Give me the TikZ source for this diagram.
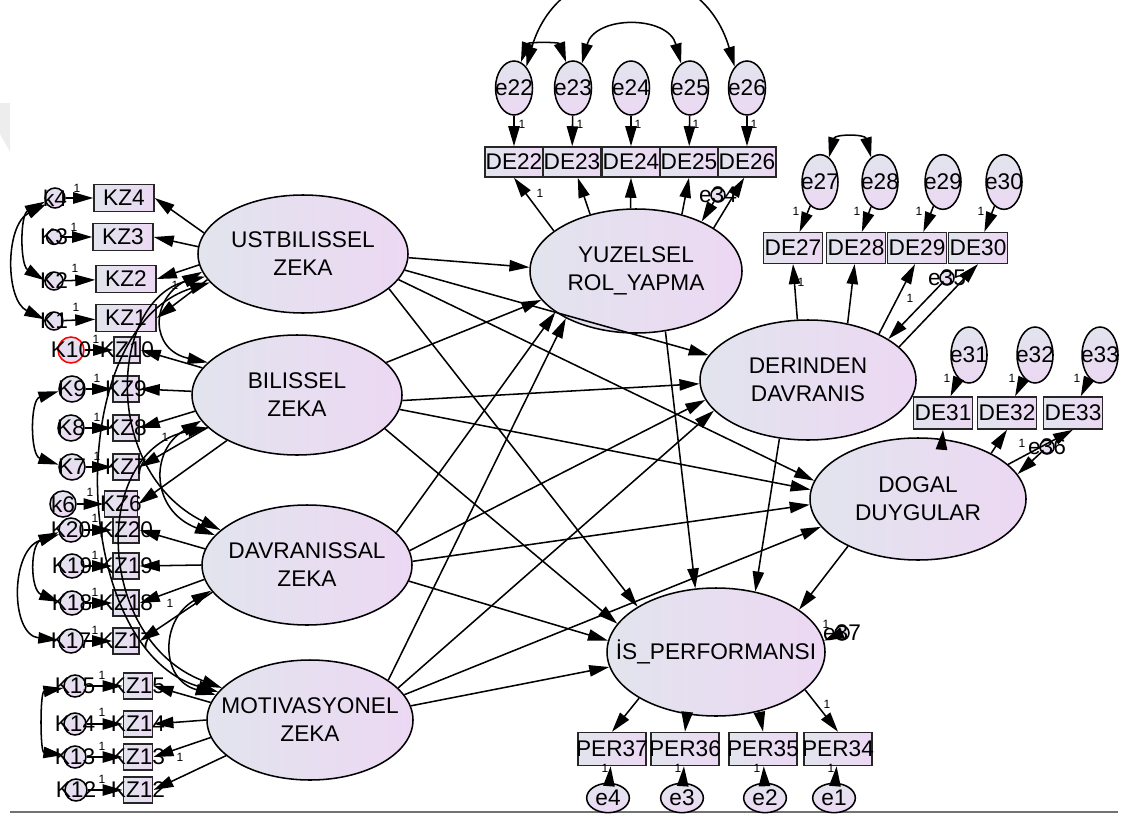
\documentclass[tikz,border=0pt]{standalone}
\usepackage{fontspec}
\setmainfont{Liberation Sans}
\usetikzlibrary{shapes.geometric,arrows.meta}
\definecolor{fillA}{RGB}{226,228,238}
\definecolor{fillB}{RGB}{236,216,243}
\begin{document}
\begin{tikzpicture}[x=0.75pt,y=-0.75pt,
  every label/.style={inner sep=0pt, font=\fontsize{17}{21}\selectfont, align=center, text=black},
  lat/.style={ellipse, draw=black, line width=1.15pt, left color=fillA, right color=fillB, inner sep=0pt},
  obs/.style={rectangle, draw=black!85, line width=1.15pt, left color=fillA, right color=fillB, inner sep=0pt},
  err/.style={ellipse, draw=black, line width=1.15pt, top color=fillA, bottom color=fillB, inner sep=0pt},
  arr/.style={-{Triangle[length=15pt,width=8.5pt]}, line width=1.15pt},
  cov/.style={{Triangle[length=15pt,width=8.5pt]}-{Triangle[length=15pt,width=8.5pt]}, line width=1.15pt},
  one/.style={font=\fontsize{9}{9}\selectfont, inner sep=0pt},
]
\useasboundingbox (0,0) rectangle (1123,817);
\fill[black!7] (0,103) -- (10,103) -- (10,152) -- (0,134) -- cycle;
\draw[black!55, line width=1.2pt] (10,812) -- (1118,812);

% latent variables
\node[lat, minimum width=157.5pt, minimum height=88.5pt, label=center:{USTBILISSEL\\ZEKA}] (UST) at (303,254) {};
\node[lat, minimum width=157.5pt, minimum height=90pt, label=center:{BILISSEL\\ZEKA}] (BIL) at (297,395) {};
\node[lat, minimum width=157.5pt, minimum height=90pt, label=center:{DAVRANISSAL\\ZEKA}] (DAV) at (307,565) {};
\node[lat, minimum width=154.5pt, minimum height=90pt, label=center:{MOTIVASYONEL\\ZEKA}] (MOT) at (310,720) {};
\node[lat, minimum width=159pt, minimum height=93pt, label=center:{YUZELSEL\\ROL\_YAPMA}] (YUZ) at (636,271) {};
\node[lat, minimum width=162pt, minimum height=90pt, label=center:{DERINDEN\\DAVRANIS}] (DER) at (808,380) {};
\node[lat, minimum width=162pt, minimum height=91.5pt, label=center:{DOGAL\\DUYGULAR}] (DOG) at (918,499) {};
\node[lat, minimum width=163.5pt, minimum height=96pt, label=center:{İS\_PERFORMANSI}] (IS) at (716,652) {};

% indicators on the left
\foreach \n/\x/\y in {KZ4/124/198, KZ3/123/237, KZ2/126/279, KZ1/126/318}
  \node[obs, minimum width=45pt, minimum height=20.5pt, label=center:\n] (\n) at (\x,\y) {};
\foreach \n/\x/\y in {KZ10/127/350, KZ9/126/389, KZ8/126/428, KZ7/126/467, KZ20/126/530, KZ19/126/566, KZ18/126/603, KZ17/126/641}
  \node[obs, minimum width=19.5pt, minimum height=19.5pt, label=center:\n] (\n) at (\x,\y) {};
\node[obs, minimum width=25pt, minimum height=19.5pt, label=center:KZ6] (KZ6) at (121,504) {};
\foreach \n/\y in {KZ15/686, KZ14/724, KZ13/757, KZ12/790}
  \node[obs, minimum width=22pt, minimum height=19.5pt, label=center:\n] (\n) at (138,\y) {};

% their error terms
\foreach \n/\x/\y/\d in {k4/55/198/15, K3/54/237/11, K2/54/281/13.5, K1/54/321/13.5,
    K9/72/389/19.5, K8/71/428/19.5, K7/72/467/19.5, k6/63/504/19.5,
    K20/71/530/18, K19/72/566/18, K18/72/603/18, K17/71/641/18,
    K15/75/686/16.5, K14/75/724/16.5, K13/75/757/16.5, K12/76/790/16.5}
  \node[err, minimum width=\d pt, minimum height=\d pt, label=center:\n] (\n) at (\x,\y) {};
\node[err, draw=red, minimum width=19.5pt, minimum height=19.5pt, label=center:K10] (K10) at (71,350) {};

% top indicators
\foreach \n/\x in {e22/514, e23/573, e24/631, e25/690, e26/747}
  \node[err, minimum width=27.75pt, minimum height=40.5pt, label=center:\n] (\n) at (\x,88) {};
\foreach \n/\x in {DE22/514, DE23/572, DE24/631, DE25/689, DE26/747}
  \node[obs, minimum width=43.5pt, minimum height=22.5pt, label=center:\n] (\n) at (\x,162) {};
\foreach \n/\x in {e27/820, e28/880, e29/943, e30/1004}
  \node[err, minimum width=27pt, minimum height=41pt, label=center:\n] (\n) at (\x,182) {};
\foreach \n/\x in {DE27/793, DE28/856, DE29/917, DE30/978}
  \node[obs, minimum width=44pt, minimum height=23pt, label=center:\n] (\n) at (\x,248) {};
\foreach \n/\x in {e31/969, e32/1035, e33/1100}
  \node[err, minimum width=27pt, minimum height=42pt, label=center:\n] (\n) at (\x,355) {};
\foreach \n/\x in {DE31/943, DE32/1007, DE33/1073}
  \node[obs, minimum width=44pt, minimum height=24pt, label=center:\n] (\n) at (\x,413) {};
\foreach \n/\x in {PER37/612, PER36/685, PER35/763, PER34/838}
  \node[obs, minimum width=51pt, minimum height=24.75pt, label=center:\n] (\n) at (\x,749) {};
\foreach \n/\x in {e4/608, e3/682, e2/765, e1/834}
  \node[err, minimum width=32pt, minimum height=22pt, label=center:\n] (\n) at (\x,798) {};

% disturbances
\foreach \n/\x/\y in {e34/718/195, e35/947/278, e36/1047/447, e37/842/633}
  \node[err, minimum width=10.5pt, minimum height=10.5pt, label=center:\n] (\n) at (\x,\y) {};

% error -> indicator paths
\foreach \a/\b in {k4/KZ4, K3/KZ3, K2/KZ2, K1/KZ1, K10/KZ10, K9/KZ9, K8/KZ8, K7/KZ7, k6/KZ6,
    K20/KZ20, K19/KZ19, K18/KZ18, K17/KZ17, K15/KZ15, K14/KZ14, K13/KZ13, K12/KZ12,
    e22/DE22, e23/DE23, e24/DE24, e25/DE25, e26/DE26, e27/DE27, e28/DE28, e29/DE29, e30/DE30,
    e31/DE31, e32/DE32, e33/DE33, e4/PER37, e3/PER36, e2/PER35, e1/PER34}
  \draw[arr] (\a) -- (\b);

% loadings
\draw[arr] (UST.168) -- (KZ4.east);
\draw[arr] (UST.176) -- (KZ3.east);
\draw[arr] (UST.186) -- (KZ2.east);
\draw[arr] (UST.195) -- (KZ1.east);
\draw[arr] (BIL.164) -- (KZ10.east);
\draw[arr] (BIL.178) -- (KZ9.east);
\draw[arr] (BIL.189) -- (KZ8.east);
\draw[arr] (BIL.200) -- (KZ7.east);
\draw[arr] (BIL.213) -- (KZ6.east);
\draw[arr] (DAV.171) -- (KZ20.east);
\draw[arr] (DAV.180) -- (KZ19.east);
\draw[arr] (DAV.188) -- (KZ18.east);
\draw[arr] (DAV.196) -- (KZ17.east);
\draw[arr] (MOT.170) -- (KZ15.east);
\draw[arr] (MOT.180) -- (KZ14.east);
\draw[arr] (MOT.190) -- (KZ13.east);
\draw[arr] (MOT.203) -- (KZ12.east);
\draw[arr] (YUZ.154) -- (DE22.south);
\draw[arr] (YUZ.129) -- (DE23.-70);
\draw[arr] (YUZ.95) -- (DE24.south);
\draw[arr] (YUZ.51) -- (DE25.south);
\draw[arr] (YUZ.29) -- (DE26.-100);
\draw[arr] (DER.100) -- (DE27.south);
\draw[arr] (DER.55) -- (DE28.-95);
\draw[arr] (DER.33) -- (DE29.-97);
\draw[arr] (DER.20) -- (DE30.south);
\draw[arr] (DOG.68) -- (DE31.south);
\draw[arr] (DOG.32) -- (DE32.south);
\draw[arr] (DOG.21) -- (DE33.south);
\draw[arr] (IS.211) -- (PER37.north);
\draw[arr] (IS.245) -- (PER36.north);
\draw[arr] (IS.306) -- (PER35.north);
\draw[arr] (IS.337) -- (PER34.north);

% disturbance paths
\draw[arr] (e34) -- (YUZ.37);
\draw[arr] (e35) -- (DER.27);
\draw[arr] (e36) -- (DOG.14);
\draw[arr] (e37) -- (IS.6);

% structural paths
\draw[arr] (UST.358) -- (YUZ.178);
\draw[arr] (UST.351) -- (DER.166);
\draw[arr] (UST.345) -- (DOG.170);
\draw[arr] (UST.338) -- (IS.150);
\draw[arr] (BIL.20) -- (YUZ.197);
\draw[arr] (BIL.357) -- (DER.182);
\draw[arr] (BIL.352) -- (DOG.175);
\draw[arr] (BIL.339) -- (IS.164);
\draw[arr] (DAV.20) -- (YUZ.207);
\draw[arr] (DAV.8) -- (DER.191);
\draw[arr] (DAV.2) -- (DOG.183);
\draw[arr] (DAV.351) -- (IS.174);
\draw[arr] (MOT.27) -- (YUZ.214);
\draw[arr] (MOT.20) -- (DER.198);
\draw[arr] (MOT.15) -- (DOG.196);
\draw[arr] (MOT.8) -- (IS.188);
\draw[arr] (YUZ.296) -- (IS.108);
\draw[arr] (DER.244) -- (IS.57);
\draw[arr] (DOG.214) -- (IS.27);

% covariances among exogenous factors
\draw[cov] (UST.190) .. controls (150,300) and (150,350) .. (BIL.160);
\draw[cov] (BIL.195) .. controls (150,450) and (150,510) .. (DAV.162);
\draw[cov] (DAV.195) .. controls (160,620) and (160,680) .. (MOT.165);
\draw[cov] (UST.193) .. controls (110,300) and (100,470) .. (DAV.158);
\draw[cov] (BIL.200) .. controls (90,450) and (95,640) .. (MOT.160);
\draw[cov] (UST.197) .. controls (60,330) and (70,650) .. (MOT.163);

% error covariances
\draw[cov] (k4.200) .. controls (20,215) and (20,265) .. (K2.175);
\draw[cov] (k4.215) .. controls (5,225) and (5,300) .. (K1.170);
\draw[cov] (K9.190) .. controls (30,400) and (30,455) .. (K7.170);
\draw[cov] (K20.190) .. controls (30,545) and (30,590) .. (K18.175);
\draw[cov] (K20.200) .. controls (10,550) and (10,635) .. (K17.175);
\draw[cov] (K15.190) .. controls (40,692) and (40,752) .. (K13.170);
\draw[cov] (e22.75) .. controls (528,42) and (559,42) .. (e23.105);
\draw[cov] (e23.70) .. controls (595,15) and (668,15) .. (e25.110);
\draw[cov] (e22.60) .. controls (560,-52) and (700,-52) .. (e26.120);
\draw[cov] (e27.70) .. controls (835,134) and (865,134) .. (e28.110);

% fixed weights
\foreach \x/\y [count=\i] in {77/188, 74/227, 75/268, 76/307, 96/339, 97/378, 97/417, 97/456, 90/492,
    95/518, 95/555, 95/592, 95/630, 102/675, 102/712, 102/746, 102/779,
    522/124, 580/124, 638/124, 696/124, 754/124, 796/211, 857/211, 919/211, 981/211,
    947/378, 1012/378, 1077/378, 605/768, 678/768, 757/768, 831/768,
    540/193, 801/282, 910/298, 1022/443, 826/624, 827/704, 175/285, 165/437, 170/603, 180/757}
  \node[one] (w\i) at (\x,\y) {1};
\end{tikzpicture}
\end{document}
